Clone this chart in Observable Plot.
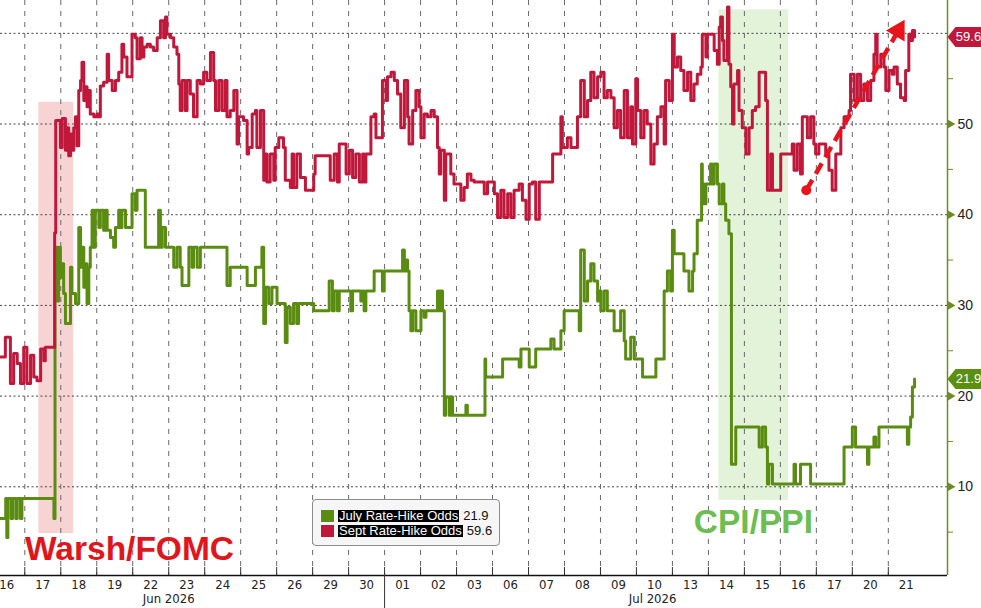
<!DOCTYPE html>
<html>
<head>
<meta charset="utf-8">
<script src="https://cdn.jsdelivr.net/npm/d3@7"></script>
<script src="https://cdn.jsdelivr.net/npm/@observablehq/plot@0.6"></script>
<style>
  html, body { margin: 0; padding: 0; background: #ffffff; }
  #chart { position: relative; width: 981px; height: 608px; overflow: hidden; background: #fff; }
  #legend { position: absolute; left: 312px; top: 499px; width: 188px; height: 47px; box-sizing: border-box;
            border: 1px solid #8c8c8c; border-radius: 4px; background: #f6f6f6; padding-top: 8px;
            font: 13px "Liberation Sans", Arial, sans-serif; }
  .lrow { display: flex; align-items: center; height: 15px; padding-left: 8px; }
  .sw { width: 13px; height: 12px; margin-right: 4px; }
  .nm { background: #000; color: #fff; line-height: 12px; padding: 0 1px; }
  .vl { margin-left: 4px; color: #111; }
</style>
</head>
<body>
<div id="chart"></div>
<script>
// ---------- DATA ----------
// x axis: trading-day position (day i of the list spans [i, i+1])
const dayLabels = ["16","17","18","19","22","23","24","25","26","29","30",
                   "01","02","03","06","07","08","09","10","13","14","15","16","17","20","21"];
const monthLabels = ["Jun 2026", "Jul 2026"];
const monthLabelAt = [5.0, 18.45];
const monthBoundary = [11];

const yTicks = [10, 20, 30, 40, 50, 60];
const yLabelTicks = [10, 20, 30, 40, 50];
const yMinorTicks = [5, 15, 25, 35, 45, 55];

const seriesNames = ["July Rate-Hike Odds", "Sept Rate-Hike Odds"];

const julyTime = [0.325,0.47,0.50,0.53,0.62,0.66,0.75,0.79,0.88,0.92,1.81,1.84,1.90,1.94,1.99,2.04,2.08,2.13,2.27,2.31,
  2.41,2.50,2.55,2.59,2.64,2.69,2.73,2.78,2.82,2.87,2.92,2.96,3.06,3.10,3.19,3.24,3.29,3.38,3.47,3.52,
  3.61,3.66,3.70,3.80,3.98,4.07,4.12,4.35,4.72,4.77,4.82,4.91,5.14,5.23,5.32,5.37,5.56,5.65,5.69,5.79,
  5.88,6.62,6.71,7.18,7.41,7.59,7.64,7.69,7.78,7.87,8.01,8.24,8.29,8.38,8.47,8.56,8.61,9.03,9.46,9.55,
  9.60,9.69,9.74,10.06,10.11,10.34,10.39,10.43,10.48,10.71,10.94,10.99,11.50,11.55,11.59,11.64,11.68,11.73,11.78,11.87,
  12.01,12.10,12.15,12.47,12.52,12.56,12.61,12.66,12.70,12.80,12.84,12.89,13.26,13.30,13.79,13.81,14.28,14.74,14.79,15.02,
  15.20,15.62,15.71,15.90,15.99,16.41,16.45,16.55,16.64,16.73,16.82,16.92,16.96,17.01,17.10,17.19,17.38,17.56,17.66,17.70,
  17.84,17.94,18.17,18.54,18.77,18.86,18.95,19.00,19.05,19.32,19.46,19.56,19.60,19.69,19.81,19.83,19.88,19.93,20.06,20.11,
  20.16,20.25,20.30,20.39,20.43,20.48,20.57,20.64,20.76,21.41,21.50,21.59,21.64,21.68,21.78,22.38,22.42,22.56,22.84,23.77,
  24.00,24.09,24.42,24.46,24.60,24.65,24.74,25.53,25.57,25.62,25.67,25.73];
const julyOdds = [6.5,8.7,4.4,8.7,6.5,8.7,6.5,8.7,6.5,8.7,6.5,36.4,30.5,36.4,33.1,34.6,31.3,28.0,34.2,31.3,
  30.2,38.6,34.2,36.4,32.0,34.6,30.2,34.2,36.4,40.5,36.4,40.5,38.6,40.5,38.3,40.5,38.3,37.5,36.4,38.6,
  40.5,38.6,40.5,38.6,42.3,40.5,42.7,36.4,40.5,36.4,38.6,36.4,34.2,36.4,34.2,32.2,36.4,34.2,36.4,34.2,
  36.4,32.2,34.2,32.2,34.2,36.4,28.0,32.0,30.2,32.0,30.2,25.9,29.8,28.0,30.2,28.0,30.2,29.4,32.7,29.4,
  31.6,29.4,31.6,29.4,31.6,30.5,31.6,29.4,31.6,33.8,31.6,33.8,36.1,33.8,35.0,33.8,29.4,27.2,29.4,27.2,
  29.4,28.7,29.4,31.6,29.4,31.6,29.4,17.9,19.9,17.9,19.9,17.9,19.0,17.9,24.1,22.1,24.1,23.2,25.2,23.2,
  25.2,26.3,25.2,27.2,29.4,27.2,36.1,30.5,32.7,34.6,32.7,30.5,31.6,29.4,31.6,29.4,27.2,29.4,26.1,24.1,
  26.5,24.1,22.1,24.1,31.6,33.8,31.6,38.3,35.7,33.8,31.6,33.8,35.7,39.4,45.6,43.4,41.2,43.4,45.6,43.4,
  45.6,43.4,41.2,43.4,41.2,39.4,37.9,12.5,16.6,14.4,16.6,14.4,10.3,12.5,10.3,12.5,10.3,12.5,10.3,14.4,
  16.6,14.4,12.5,14.4,15.5,14.4,16.6,14.7,16.6,17.7,21.0,21.9];

const septTime = [0.325,0.46,0.60,0.69,0.79,0.88,0.97,1.06,1.16,1.25,1.34,1.44,1.53,1.57,1.83,1.86,1.99,2.04,2.13,2.18,
  2.22,2.27,2.31,2.36,2.41,2.45,2.50,2.55,2.59,2.64,2.69,2.73,2.78,2.82,2.92,3.01,3.06,3.10,3.19,3.29,
  3.33,3.43,3.52,3.61,3.70,3.75,3.84,3.98,4.07,4.12,4.21,4.26,4.31,4.40,4.49,4.58,4.68,4.77,4.86,4.91,
  4.95,5.05,5.14,5.23,5.28,5.32,5.37,5.46,5.51,5.60,5.69,5.79,5.88,5.97,6.06,6.16,6.25,6.30,6.39,6.48,
  6.57,6.62,6.71,6.81,6.90,6.94,7.08,7.18,7.22,7.32,7.41,7.45,7.55,7.64,7.69,7.73,7.82,7.92,7.96,8.06,
  8.19,8.24,8.38,8.43,8.47,8.56,8.66,8.80,9.03,9.07,9.49,9.60,9.69,9.74,9.93,10.02,10.11,10.20,10.30,10.39,
  10.43,10.48,10.62,10.71,10.76,10.94,11.04,11.08,11.18,11.27,11.36,11.45,11.55,11.64,11.68,11.78,11.87,11.96,12.01,12.10,
  12.19,12.29,12.38,12.47,12.52,12.56,12.66,12.70,12.84,12.93,13.12,13.21,13.30,13.40,13.49,13.77,13.86,14.05,14.14,14.23,
  14.32,14.42,14.51,14.60,14.74,14.83,14.93,15.02,15.11,15.20,15.30,15.67,15.90,15.94,16.08,16.18,16.36,16.45,16.55,16.64,
  16.73,16.82,16.92,17.01,17.10,17.19,17.29,17.38,17.47,17.56,17.66,17.75,17.84,17.89,17.98,18.03,18.12,18.21,18.30,18.40,
  18.49,18.58,18.68,18.77,18.81,18.91,19.00,19.05,19.14,19.23,19.32,19.42,19.51,19.60,19.69,19.79,19.83,19.93,19.97,20.16,
  20.25,20.30,20.34,20.39,20.43,20.53,20.57,20.62,20.67,20.71,20.81,20.85,20.94,21.04,21.13,21.22,21.31,21.41,21.59,21.64,
  21.73,21.78,22.01,22.33,22.38,22.47,22.56,22.61,22.75,22.84,22.93,22.98,23.07,23.26,23.35,23.44,23.54,23.68,23.77,23.91,
  23.95,24.05,24.14,24.23,24.32,24.42,24.51,24.60,24.65,24.69,24.79,24.88,24.93,25.02,25.11,25.16,25.25,25.34,25.44,25.48,
  25.57,25.62,25.67,25.73];
const septOdds = [24.3,26.5,21.4,24.7,23.6,21.4,25.4,21.4,24.5,22.1,21.7,25.2,23.9,25.4,38.0,50.4,47.4,50.6,47.1,49.6,
  46.5,48.9,47.1,49.6,50.8,47.6,53.7,54.8,56.8,52.6,54.1,51.9,53.7,51.1,50.8,51.1,50.8,54.2,54.6,57.7,
  54.8,53.7,54.8,55.7,58.8,57.4,55.2,59.9,59.5,57.2,59.5,57.4,58.5,58.8,58.5,58.1,59.5,61.4,59.5,61.8,
  59.9,59.5,58.5,57.7,54.4,51.5,54.8,51.5,54.8,53.3,50.8,54.8,54.4,55.7,54.8,57.9,54.8,51.5,54.8,51.5,
  54.8,50.8,51.5,53.7,47.8,50.8,50.4,46.7,47.4,51.1,51.5,47.4,51.5,43.8,46.7,43.6,46.7,43.8,47.4,48.5,
  47.4,43.8,43.0,46.7,43.0,46.7,44.1,42.7,44.5,46.5,43.8,46.7,43.6,47.8,44.5,47.1,44.1,46.7,43.6,46.7,
  43.6,46.7,50.8,51.1,48.5,54.8,52.6,55.2,55.7,54.8,53.3,49.6,54.8,50.8,47.8,51.5,53.7,51.9,48.5,51.1,
  50.8,51.5,50.8,47.4,44.5,47.1,41.6,46.7,44.5,43.4,41.6,43.0,44.5,43.8,43.6,42.3,43.6,42.3,39.7,42.7,
  39.7,42.3,39.7,42.7,43.4,41.6,39.5,43.4,43.6,39.5,43.6,46.7,50.8,47.4,48.5,47.4,50.8,54.8,50.8,52.6,
  55.7,52.9,55.2,55.7,52.9,53.7,52.9,49.6,51.5,48.5,53.7,48.5,51.9,47.8,55.0,51.5,48.5,51.5,50.0,45.6,
  47.8,50.8,51.9,47.8,54.8,52.6,59.9,56.3,57.4,55.9,53.7,55.7,52.6,54.4,55.5,56.3,59.9,57.4,59.9,58.1,
  56.6,60.7,61.8,59.2,57.0,62.9,56.6,54.1,50.0,54.4,55.9,51.5,49.6,46.7,49.6,51.5,51.9,55.7,52.6,42.7,
  46.7,42.7,46.7,47.8,44.9,47.8,44.5,50.8,48.5,50.8,47.8,46.7,47.8,46.7,44.9,42.7,46.7,49.6,50.8,51.5,
  55.5,52.6,55.5,52.6,54.4,52.6,54.8,57.7,59.9,56.3,57.7,56.3,53.7,55.9,55.5,56.3,54.4,52.9,52.6,55.9,
  59.9,59.2,60.3,59.6];

// shaded event windows (trading-day position, odds range)
const eventNames = ["Warsh/FOMC", "CPI/PPI"];
const eventStart = [1.39, 20.29];
const eventEnd   = [2.36, 22.23];
const eventLow   = [4.85, 8.5];
const eventHigh  = [52.4, 62.6];
const eventLabelT = [3.91, 21.25];
const eventLabelV = [3.1, 6.1];

// dashed trend arrow on Sept odds
const arrowFrom = [22.72, 42.7];
const arrowTo   = [25.28, 60.3];

// ---------- CHART ----------
const W = 981, H = 608, mL = 0, mR = 34, mT = 0, mB = 33;
const xDomain = [0.325, 26.645];
const yDomain = [0.22, 63.62];
const RED = "#c0183b", GREEN = "#5b8c12", OLIVE = "#6e8a25";
const narrow = "'Liberation Sans Narrow', 'Arial Narrow', 'DejaVu Sans Condensed', sans-serif";

const july = julyTime.map((t, i) => ({t, v: julyOdds[i]}));
const sept = septTime.map((t, i) => ({t, v: septOdds[i]}));
const lastJuly = julyOdds[julyOdds.length - 1];
const lastSept = septOdds[septOdds.length - 1];

const xs = Plot.scale({x: {domain: xDomain, range: [mL, W - mR]}});
const ys = Plot.scale({y: {domain: yDomain, range: [H - mB, mT]}});
const adx = xs.apply(arrowTo[0]) - xs.apply(arrowFrom[0]);
const ady = ys.apply(arrowTo[1]) - ys.apply(arrowFrom[1]);
const arrowAngle = Math.atan2(adx, -ady) * 180 / Math.PI;

const tagSymbol = {draw(ctx) {
  ctx.moveTo(0, 0); ctx.lineTo(8, -10); ctx.lineTo(36, -10); ctx.lineTo(36, 10); ctx.lineTo(8, 10); ctx.closePath();
}};

const plot = Plot.plot({
  width: W, height: H,
  marginLeft: mL, marginRight: mR, marginTop: mT, marginBottom: mB,
  x: {domain: xDomain, axis: null, label: null},
  y: {domain: yDomain, axis: null, label: null},
  style: {background: "transparent", fontFamily: "'Liberation Sans', Arial, sans-serif", overflow: "visible"},
  marks: [
    Plot.rect([0], {x1: [eventStart[0]], x2: [eventEnd[0]], y1: [eventLow[0]], y2: [eventHigh[0]], fill: "#f8d3d3"}),
    Plot.rect([1], {x1: [eventStart[1]], x2: [eventEnd[1]], y1: [eventLow[1]], y2: [eventHigh[1]], fill: "#e2f3da"}),
    Plot.ruleY(yTicks, {stroke: "#444", strokeWidth: 1, strokeDasharray: "2,2.5"}),
    Plot.ruleX(d3.range(1, 26), {stroke: "#6a6a6a", strokeWidth: 1, strokeDasharray: "5,6"}),
    Plot.line(july, {x: "t", y: "v", curve: "step-after", stroke: GREEN, strokeWidth: 3}),
    Plot.line(sept, {x: "t", y: "v", curve: "step-after", stroke: RED, strokeWidth: 3}),
    // event labels
    Plot.text([eventNames[0]], {x: [eventLabelT[0]], y: [eventLabelV[0]], text: d => d, fill: "#e0161c",
      fontSize: 33.5, fontWeight: "bold", fontFamily: "'Liberation Sans', Arial, sans-serif"}),
    Plot.text([eventNames[1]], {x: [eventLabelT[1]], y: [eventLabelV[1]], text: d => d, fill: "#6cbd52",
      fontSize: 33.5, fontWeight: "bold", fontFamily: "'Liberation Sans', Arial, sans-serif"}),
    // trend arrow
    Plot.link([0], {x1: [arrowFrom[0]], y1: [arrowFrom[1]], x2: [arrowTo[0]], y2: [arrowTo[1]],
      stroke: "#e8141c", strokeWidth: 4.5, strokeDasharray: "12,7"}),
    Plot.dot([0], {x: [arrowFrom[0]], y: [arrowFrom[1]], r: 5, fill: "#e8141c"}),
    Plot.dot([0], {x: [arrowTo[0]], y: [arrowTo[1]], r: 8, symbol: "triangle", rotate: arrowAngle, fill: "#e8141c"}),
    // axes frame
    Plot.ruleX([xDomain[1]], {stroke: OLIVE, strokeWidth: 1.5}),
    Plot.ruleY([yDomain[0]], {stroke: "#111", strokeWidth: 1.5}),
    Plot.axisX({ticks: d3.range(1, 26), tickSize: -8, text: null, stroke: "#333", label: null}),
    Plot.axisX({ticks: monthBoundary, tickSize: 34, text: null, stroke: "#333", label: null}),
    Plot.axisX({ticks: dayLabels.map((d, i) => i + 0.5), tickSize: 0, tickPadding: 4,
      tickFormat: d => dayLabels[Math.floor(d)], fontSize: 13, fontFamily: narrow, fill: "#222", label: null}),
    Plot.text(monthLabels, {x: monthLabelAt, text: d => d, frameAnchor: "bottom", dy: 27, fontSize: 13,
      fontFamily: narrow, fill: "#222"}),
    // right axis
    Plot.axisY({anchor: "right", ticks: yMinorTicks, tickSize: 5, text: null, stroke: OLIVE, label: null}),
    Plot.dot(yLabelTicks, {x: xDomain[1], y: d => d, symbol: "triangle", rotate: 90, r: 3.2, fill: OLIVE, dx: 3}),
    Plot.axisY({anchor: "right", ticks: yLabelTicks, tickSize: 0, tickPadding: 10, fontSize: 14,
      fontFamily: "'Liberation Sans', Arial, sans-serif", fill: "#222", label: null}),
    // last-value tags
    Plot.dot([lastSept], {x: xDomain[1], y: d => d, symbol: tagSymbol, fill: "#c0183b"}),
    Plot.text([lastSept], {x: xDomain[1], y: d => d, text: d => d.toFixed(1), dx: 21, fill: "#fff", fontSize: 13}),
    Plot.dot([lastJuly], {x: xDomain[1], y: d => d, symbol: tagSymbol, fill: "#5c8f10"}),
    Plot.text([lastJuly], {x: xDomain[1], y: d => d, text: d => d.toFixed(1), dx: 21, fill: "#fff", fontSize: 13})
  ]
});

const chart = document.getElementById("chart");
chart.appendChild(plot);

// legend (HTML overlay, values from the data)
const legend = document.createElement("div");
legend.id = "legend";
[[seriesNames[0], GREEN, lastJuly], [seriesNames[1], RED, lastSept]].forEach(([name, col, val]) => {
  const row = document.createElement("div");
  row.className = "lrow";
  row.innerHTML = `<span class="sw" style="background:${col}"></span><span class="nm">${name}</span><span class="vl">${val.toFixed(1)}</span>`;
  legend.appendChild(row);
});
chart.appendChild(legend);
</script>
</body>
</html>
